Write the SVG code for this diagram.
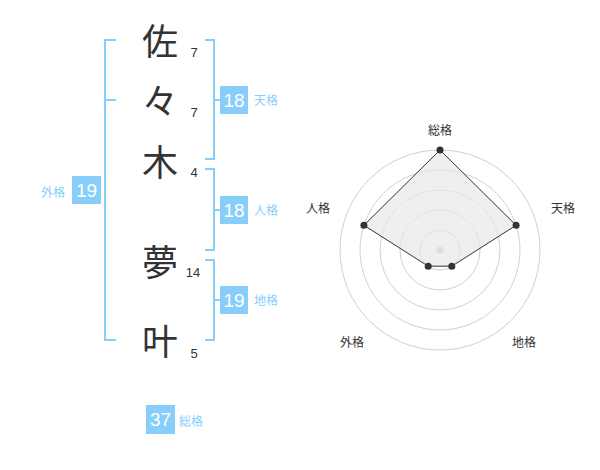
<svg xmlns="http://www.w3.org/2000/svg" width="600" height="470" viewBox="0 0 600 470">
<style>
.kanji{font-family:"Noto Sans CJK JP","Noto Sans CJK SC",sans-serif;font-size:36px;fill:#333;text-anchor:middle}
.num{font-family:"Liberation Sans",Arial,sans-serif;font-size:13px;fill:#333;text-anchor:middle}
.br{fill:none;stroke:#87cefa;stroke-width:2}
.box{fill:#87cefa}
.bn{font-family:"Liberation Sans",Arial,sans-serif;font-size:19px;fill:#fff;text-anchor:middle}
.bl{font-family:"Noto Sans CJK JP",sans-serif;font-size:12px;fill:#87cefa}
.ring{fill:none;stroke:#d0d0d0;stroke-width:1}
.rl{font-family:"Noto Sans CJK JP",sans-serif;font-size:12px;fill:#333;text-anchor:middle}
.dot{fill:#333}
</style>
<rect width="600" height="470" fill="#fff"/>
<g id="connectors">
<path class="br" d="M116,40 H105 V340 H116 M105,100 H116"/>
<path class="br" d="M205,40 H214 V159 H205 M214,100 H220"/>
<path class="br" d="M205,169 H214 V250 H205 M214,210 H220"/>
<path class="br" d="M205,260 H214 V340 H205 M214,300 H220"/>
</g>
<g id="char1"><text class="kanji" x="160" y="55">佐</text><text class="num" x="194" y="57">7</text></g>
<g id="char2"><text class="kanji" x="160" y="115">々</text><text class="num" x="194" y="117">7</text></g>
<g id="char3"><text class="kanji" x="160" y="176">木</text><text class="num" x="194" y="177">4</text></g>
<g id="char4"><text class="kanji" x="160" y="276">夢</text><text class="num" x="193" y="277">14</text></g>
<g id="char5"><text class="kanji" x="160" y="355">叶</text><text class="num" x="194" y="358">5</text></g>
<g id="tenkaku"><rect class="box" x="220" y="86" width="28" height="28"/><text class="bn" x="234" y="107">18</text><text class="bl" x="254" y="105">天格</text></g>
<g id="jinkaku"><rect class="box" x="220" y="196" width="28" height="28"/><text class="bn" x="234" y="217">18</text><text class="bl" x="254" y="215">人格</text></g>
<g id="chikaku"><rect class="box" x="220" y="286" width="28" height="28"/><text class="bn" x="234" y="307">19</text><text class="bl" x="254" y="305">地格</text></g>
<g id="gaikaku"><rect class="box" x="72" y="176" width="29" height="28"/><text class="bn" x="86.5" y="197">19</text><text class="bl" x="41" y="197">外格</text></g>
<g id="soukaku"><rect class="box" x="146" y="405" width="29" height="29"/><text class="bn" x="160.5" y="426">37</text><text class="bl" x="179" y="426">総格</text></g>
<g id="radar">
<circle class="ring" cx="440" cy="250" r="20"/>
<circle class="ring" cx="440" cy="250" r="40"/>
<circle class="ring" cx="440" cy="250" r="60"/>
<circle class="ring" cx="440" cy="250" r="80"/>
<circle class="ring" cx="440" cy="250" r="100"/>
<circle cx="440" cy="250" r="3.5" fill="#c8c8c8"/>
<polygon points="440,150 516.1,225.3 451.8,266.2 428.2,266.2 363.9,225.3" fill="#e8e8e8" fill-opacity="0.7" stroke="#333" stroke-width="1"/>
<circle class="dot" cx="440" cy="150" r="3.5"/>
<circle class="dot" cx="516.1" cy="225.3" r="3.5"/>
<circle class="dot" cx="451.8" cy="266.2" r="3.5"/>
<circle class="dot" cx="428.2" cy="266.2" r="3.5"/>
<circle class="dot" cx="363.9" cy="225.3" r="3.5"/>
<text class="rl" x="440" y="135">総格</text>
<text class="rl" x="563" y="213">天格</text>
<text class="rl" x="524" y="347">地格</text>
<text class="rl" x="352" y="347">外格</text>
<text class="rl" x="318" y="213">人格</text>
</g>
</svg>
